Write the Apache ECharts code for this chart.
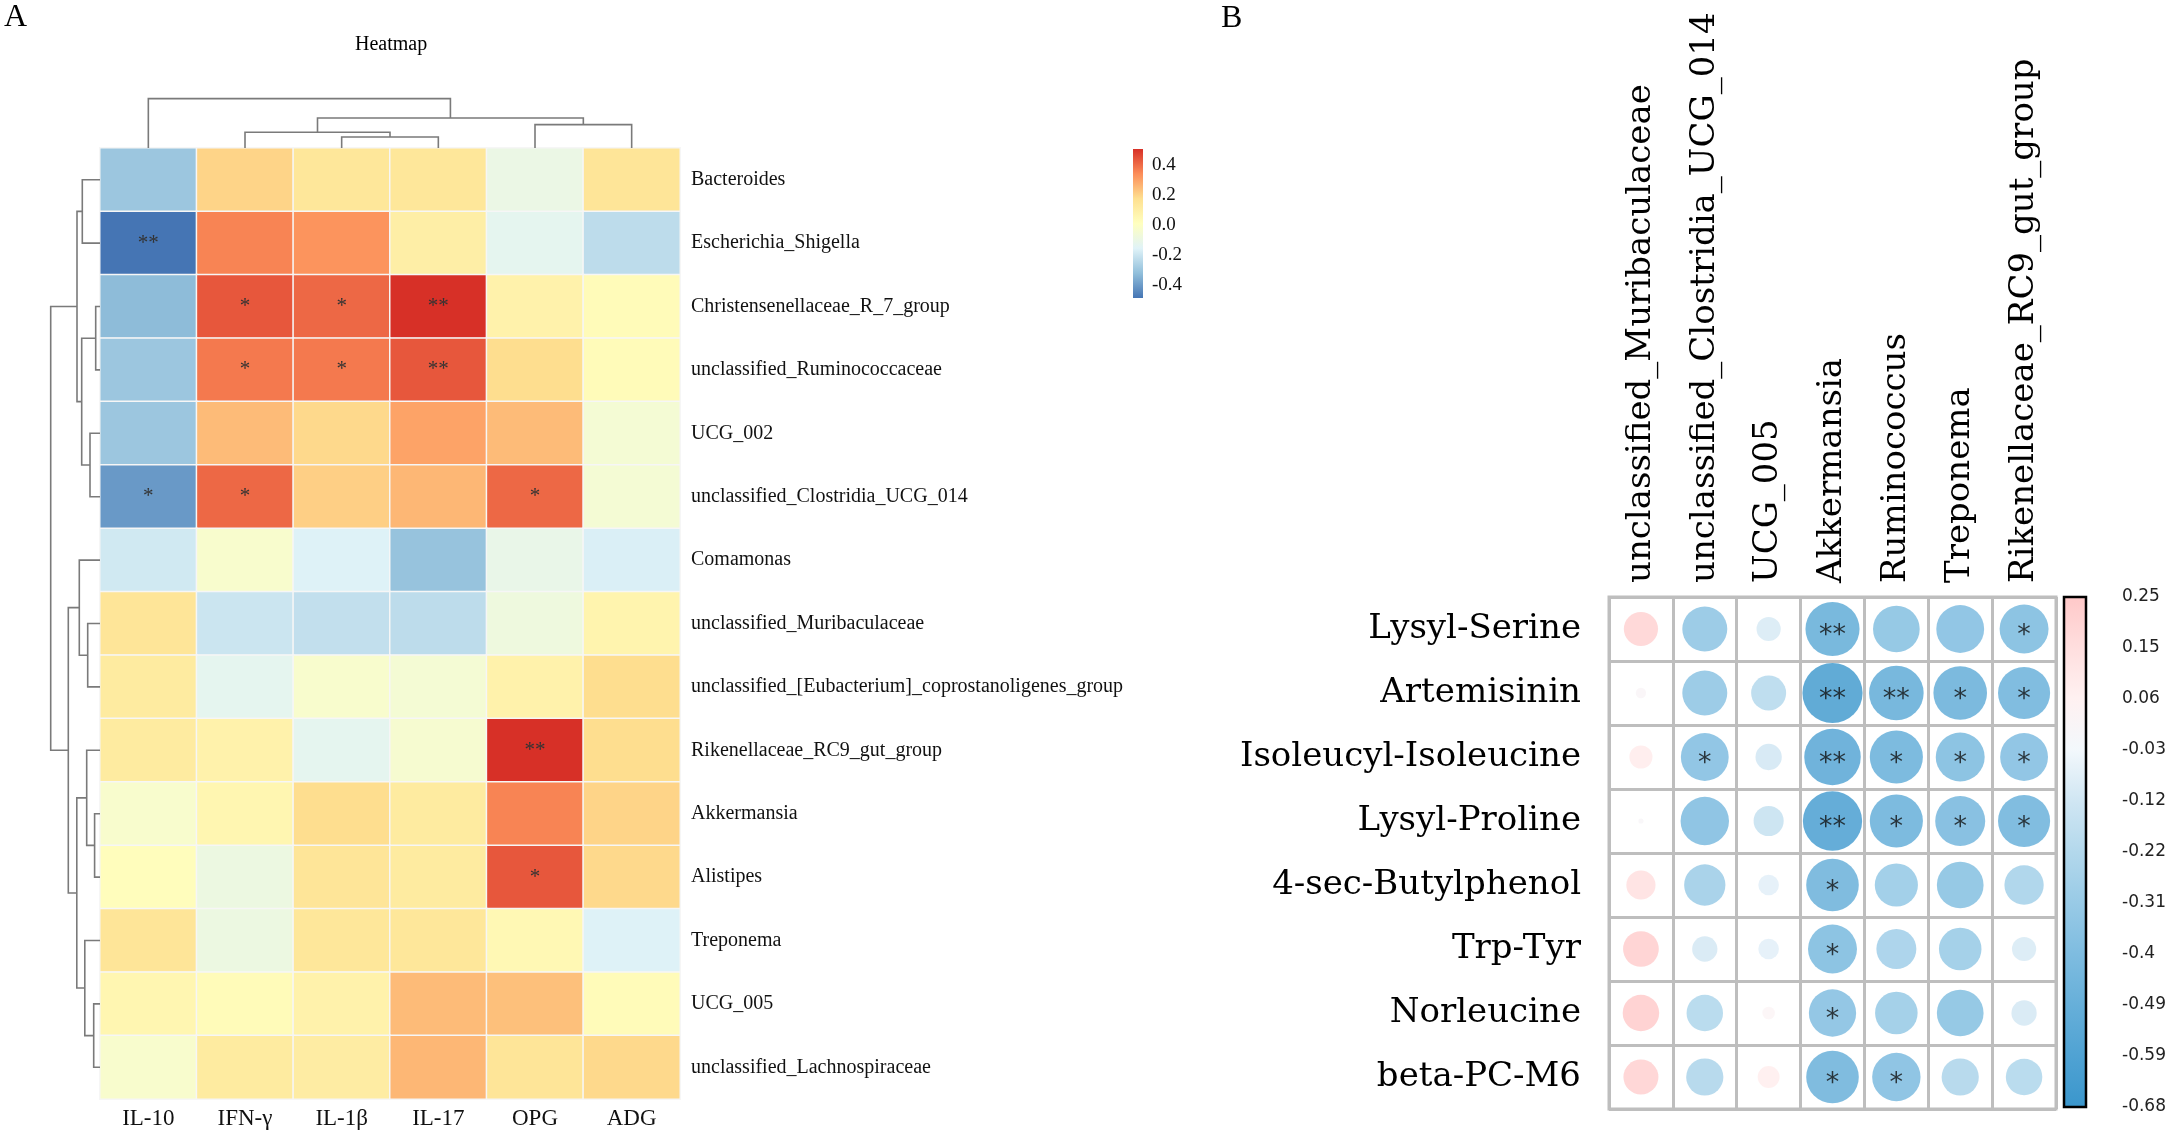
<!DOCTYPE html>
<html>
<head>
<meta charset="utf-8" />
<title>Heatmap and correlation plot</title>
<script src="https://cdn.jsdelivr.net/npm/echarts@6/dist/echarts.min.js"></script>
<style>
    html, body { margin: 0; padding: 0; background: #fff; }
    #main { width: 2175px; height: 1136px; }
</style>
</head>
<body>
<div id="main"></div>
<script type="text/javascript">
// ---------- panel A : clustered heatmap ----------
var aCols = ['IL-10', 'IFN-γ', 'IL-1β', 'IL-17', 'OPG', 'ADG'];
var aRows = ['Bacteroides', 'Escherichia_Shigella', 'Christensenellaceae_R_7_group',
    'unclassified_Ruminococcaceae', 'UCG_002', 'unclassified_Clostridia_UCG_014', 'Comamonas',
    'unclassified_Muribaculaceae', 'unclassified_[Eubacterium]_coprostanoligenes_group',
    'Rikenellaceae_RC9_gut_group', 'Akkermansia', 'Alistipes', 'Treponema', 'UCG_005',
    'unclassified_Lachnospiraceae'];
var aValues = [
    [-0.30, 0.20, 0.14, 0.14, -0.10, 0.15],
    [-0.49, 0.36, 0.33, 0.10, -0.13, -0.23],
    [-0.33, 0.44, 0.41, 0.51, 0.08, 0.03],
    [-0.30, 0.38, 0.38, 0.44, 0.18, 0.03],
    [-0.30, 0.25, 0.19, 0.30, 0.25, -0.05],
    [-0.41, 0.41, 0.21, 0.26, 0.41, -0.05],
    [-0.19, -0.03, -0.16, -0.31, -0.11, -0.17],
    [0.15, -0.20, -0.22, -0.23, -0.08, 0.07],
    [0.12, -0.13, -0.03, -0.05, 0.08, 0.18],
    [0.12, 0.08, -0.13, -0.04, 0.51, 0.18],
    [-0.03, 0.06, 0.18, 0.12, 0.36, 0.20],
    [0.02, -0.09, 0.15, 0.12, 0.44, 0.19],
    [0.15, -0.09, 0.14, 0.14, 0.05, -0.16],
    [0.06, 0.03, 0.08, 0.25, 0.24, 0.03],
    [-0.03, 0.12, 0.11, 0.26, 0.15, 0.19]
];
var aStars = [
    ['', '', '', '', '', ''],
    ['**', '', '', '', '', ''],
    ['', '*', '*', '**', '', ''],
    ['', '*', '*', '**', '', ''],
    ['', '', '', '', '', ''],
    ['*', '*', '', '', '*', ''],
    ['', '', '', '', '', ''],
    ['', '', '', '', '', ''],
    ['', '', '', '', '', ''],
    ['', '', '', '', '**', ''],
    ['', '', '', '', '', ''],
    ['', '', '', '', '*', ''],
    ['', '', '', '', '', ''],
    ['', '', '', '', '', ''],
    ['', '', '', '', '', '']
];
// hclust style merges: negative = leaf (1-based), positive = earlier merge
var aColMerge = [[-3, -4], [-2, 1], [-5, -6], [2, 3], [-1, 4]];
var aColHeight = [11, 15.7, 23.4, 30, 49.4];
var aRowMerge = [[-1, -2], [-3, -4], [-5, -6], [2, 3], [1, 4], [-8, -9], [-7, 6],
    [-11, -12], [-10, 8], [-14, -15], [-13, 10], [9, 11], [7, 12], [5, 13]];
var aRowHeight = [17.7, 4.3, 10, 18.3, 23, 12.3, 20.7, 5.4, 13.3, 6.3, 15.2, 23.2, 31.7, 49.3];
var aTicks = [-0.4, -0.2, 0, 0.2, 0.4];
var aMin = -0.49, aMax = 0.51;
var aPalette = ['#4575B4', '#91BFDB', '#E0F3F8', '#FFFFBF', '#FEE090', '#FC8D59', '#D73027'];

// ---------- panel B : correlation circles ----------
var bCols = ['unclassified_Muribaculaceae', 'unclassified_Clostridia_UCG_014', 'UCG_005',
    'Akkermansia', 'Ruminococcus', 'Treponema', 'Rikenellaceae_RC9_gut_group'];
var bRows = ['Lysyl-Serine', 'Artemisinin', 'Isoleucyl-Isoleucine', 'Lysyl-Proline',
    '4-sec-Butylphenol', 'Trp-Tyr', 'Norleucine', 'beta-PC-M6'];
var bValues = [
    [0.22, -0.38, -0.11, -0.55, -0.41, -0.43, -0.45],
    [0.02, -0.38, -0.23, -0.68, -0.56, -0.54, -0.51],
    [0.10, -0.43, -0.13, -0.60, -0.53, -0.45, -0.43],
    [0.005, -0.44, -0.17, -0.66, -0.53, -0.47, -0.51],
    [0.16, -0.32, -0.08, -0.52, -0.35, -0.41, -0.29],
    [0.24, -0.12, -0.08, -0.45, -0.30, -0.34, -0.11],
    [0.25, -0.25, 0.03, -0.42, -0.34, -0.41, -0.12],
    [0.23, -0.26, 0.09, -0.52, -0.44, -0.26, -0.25]
];
var bStars = [
    ['', '', '', '**', '', '', '*'],
    ['', '', '', '**', '**', '*', '*'],
    ['', '*', '', '**', '*', '*', '*'],
    ['', '', '', '**', '*', '*', '*'],
    ['', '', '', '*', '', '', ''],
    ['', '', '', '*', '', '', ''],
    ['', '', '', '*', '', '', ''],
    ['', '', '', '*', '*', '', '']
];
var bTicks = [-0.68, -0.587, -0.494, -0.401, -0.308, -0.215, -0.122, -0.029, 0.064, 0.157, 0.25];
var bTickLabels = ['-0.68', '-0.59', '-0.49', '-0.4', '-0.31', '-0.22', '-0.12', '-0.03', '0.06', '0.15', '0.25'];
var bMin = -0.68, bMax = 0.25;
var bPalette = ['#3A96CC', '#4FA2D3', '#66AFD9', '#7EBCE0', '#98CAE6', '#B3D8EC',
    '#D0E6F3', '#F3F8FC', '#FFF1F1', '#FFDEDE', '#FFC8C8'];

// ---------- layout ----------
var serifA = 'Liberation Serif';
var serifB = 'DejaVu Serif';
var cellB = 64;

function buildDendro(merge, height) {
    var pos = [], hgt = [], segs = [];
    merge.forEach(function (m, i) {
        var ends = m.map(function (c) {
            return c < 0 ? [-c - 1, 0] : [pos[c - 1], hgt[c - 1]];
        });
        segs.push([ends[0][0], ends[0][1], ends[1][0], ends[1][1], height[i]]);
        pos.push((ends[0][0] + ends[1][0]) / 2);
        hgt.push(height[i]);
    });
    return segs;
}

function dendroRender(vertical) {
    return function (params, api) {
        var p1 = api.value(0), h1 = api.value(1), p2 = api.value(2), h2 = api.value(3), h = api.value(4);
        var pts = vertical
            ? [[p1, h1], [p1, h], [p2, h], [p2, h2]]
            : [[h1, p1], [h, p1], [h, p2], [h2, p2]];
        return {
            type: 'polyline',
            shape: { points: pts.map(function (q) { return api.coord(q); }) },
            style: { stroke: '#7a7a7a', lineWidth: 1.6, fill: 'none' }
        };
    };
}

function barRender(colors, border) {
    return function (params, api) {
        var top = api.coord([0, api.value(2)])[1];
        var bot = api.coord([0, api.value(1)])[1];
        var stops = colors.map(function (c, i) {
            return { offset: 1 - i / (colors.length - 1), color: c };
        }).reverse();
        return {
            type: 'rect',
            shape: { x: params.coordSys.x, y: top, width: params.coordSys.width, height: bot - top },
            style: {
                fill: new echarts.graphic.LinearGradient(0, 0, 0, 1, stops),
                stroke: border ? '#000' : null,
                lineWidth: border ? 2.5 : 0
            }
        };
    };
}

var heatData = [];
aRows.forEach(function (r, ri) {
    aCols.forEach(function (c, ci) {
        heatData.push([ci, ri, aValues[ri][ci]]);
    });
});
var circleData = [];
bRows.forEach(function (r, ri) {
    bCols.forEach(function (c, ci) {
        circleData.push([ci, ri, bValues[ri][ci], bStars[ri][ci]]);
    });
});

var hidden = { show: false };
var myChart = echarts.init(document.getElementById('main'));
myChart.setOption({
    backgroundColor: '#fff',
    animation: false,
    title: [
        { text: 'A', left: 4, top: 2, padding: 0,
          textStyle: { fontFamily: serifA, fontSize: 32, fontWeight: 'normal', color: '#000' } },
        { text: 'B', left: 1221, top: 3, padding: 0,
          textStyle: { fontFamily: serifA, fontSize: 32, fontWeight: 'normal', color: '#000' } },
        { text: 'Heatmap', left: 355, top: 35, padding: 0,
          textStyle: { fontFamily: serifA, fontSize: 20, fontWeight: 'normal', color: '#000' } }
    ],
    grid: [
        { left: 100, top: 148, width: 580, height: 951, outerBoundsMode: 'none' },
        { left: 100, top: 98, width: 580, height: 50, outerBoundsMode: 'none' },
        { left: 50, top: 148, width: 50, height: 951, outerBoundsMode: 'none' },
        { left: 1133, top: 149, width: 10, height: 149, outerBoundsMode: 'none' },
        { left: 1609, top: 597, width: 7 * cellB - 1, height: 8 * cellB, outerBoundsMode: 'none',
          show: true, borderColor: '#BEBEBE', borderWidth: 3, backgroundColor: '#fff' },
        { left: 2064, top: 597, width: 22, height: 510, outerBoundsMode: 'none' }
    ],
    xAxis: [
        { gridIndex: 0, type: 'category', data: aCols, position: 'bottom',
          axisLine: hidden, axisTick: hidden, splitLine: hidden,
          axisLabel: { fontFamily: serifA, fontSize: 23, color: '#111', margin: 8, interval: 0 } },
        { gridIndex: 1, type: 'value', min: -0.5, max: 5.5, show: false },
        { gridIndex: 2, type: 'value', min: 0, max: 50, inverse: true, show: false },
        { gridIndex: 3, type: 'value', min: 0, max: 1, show: false },
        { gridIndex: 4, type: 'category', data: bCols, position: 'top',
          axisLine: hidden, axisTick: hidden,
          splitLine: { show: true, interval: 0, lineStyle: { color: '#BEBEBE', width: 3 } },
          axisLabel: { rotate: -90, fontFamily: serifB, fontSize: 34, color: '#000', margin: 14, interval: 0 } },
        { gridIndex: 5, type: 'value', min: 0, max: 1, show: false }
    ],
    yAxis: [
        { gridIndex: 0, type: 'category', data: aRows, inverse: true, position: 'right',
          axisLine: hidden, axisTick: hidden, splitLine: hidden,
          axisLabel: { fontFamily: serifA, fontSize: 20, color: '#111', margin: 11, interval: 0 } },
        { gridIndex: 1, type: 'value', min: 0, max: 50, show: false },
        { gridIndex: 2, type: 'value', min: -0.5, max: 14.5, inverse: true, show: false },
        { gridIndex: 3, type: 'value', min: aMin, max: aMax, position: 'right',
          axisLine: hidden, axisTick: hidden, splitLine: hidden,
          axisLabel: { customValues: aTicks, margin: 9, fontFamily: serifA, fontSize: 19, color: '#111',
                       formatter: function (v) { return Number(v).toFixed(1); } } },
        { gridIndex: 4, type: 'category', data: bRows, inverse: true,
          axisLine: hidden, axisTick: hidden,
          splitLine: { show: true, interval: 0, lineStyle: { color: '#BEBEBE', width: 3 } },
          axisLabel: { fontFamily: serifB, fontSize: 34, color: '#000', margin: 28, interval: 0 } },
        { gridIndex: 5, type: 'value', min: bMin, max: bMax, position: 'right',
          axisLine: hidden, splitLine: hidden,
          axisTick: { show: true, customValues: bTicks, length: 6, lineStyle: { color: '#000', width: 2 } },
          axisLabel: { customValues: bTicks, margin: 36, fontFamily: 'DejaVu Sans', fontSize: 17, color: '#222',
                       formatter: function (v) {
                           var i = bTicks.indexOf(Number(v));
                           return i >= 0 ? bTickLabels[i] : '';
                       } } }
    ],
    visualMap: [
        { type: 'continuous', show: false, seriesIndex: 0, dimension: 2,
          min: aMin, max: aMax, inRange: { color: aPalette } },
        { type: 'continuous', show: false, seriesIndex: 4, dimension: 2,
          min: bMin, max: bMax, inRange: { color: bPalette } }
    ],
    series: [
        {
            type: 'heatmap', xAxisIndex: 0, yAxisIndex: 0, data: heatData,
            itemStyle: { borderColor: '#f6f6f6', borderWidth: 1.5 },
            emphasis: { disabled: true },
            label: {
                show: true, color: '#333', fontFamily: serifA, fontSize: 21,
                formatter: function (p) { return aStars[p.value[1]][p.value[0]]; }
            }
        },
        {
            type: 'custom', xAxisIndex: 1, yAxisIndex: 1, silent: true,
            data: buildDendro(aColMerge, aColHeight), renderItem: dendroRender(true)
        },
        {
            type: 'custom', xAxisIndex: 2, yAxisIndex: 2, silent: true,
            data: buildDendro(aRowMerge, aRowHeight), renderItem: dendroRender(false)
        },
        {
            type: 'custom', xAxisIndex: 3, yAxisIndex: 3, silent: true,
            data: [[0, aMin, aMax]], renderItem: barRender(aPalette, false)
        },
        {
            type: 'scatter', xAxisIndex: 4, yAxisIndex: 4, data: circleData,
            symbol: 'circle',
            symbolSize: function (d) { return cellB * 0.94 * Math.sqrt(Math.abs(d[2]) / 0.68); },
            emphasis: { disabled: true },
            label: {
                show: true, position: 'inside', offset: [0, 7], color: '#111',
                fontFamily: 'DejaVu Sans', fontSize: 27,
                formatter: function (p) { return p.data[3]; }
            }
        },
        {
            type: 'custom', xAxisIndex: 5, yAxisIndex: 5, silent: true,
            data: [[0, bMin, bMax]], renderItem: barRender(bPalette, true)
        }
    ]
});
</script>
</body>
</html>
